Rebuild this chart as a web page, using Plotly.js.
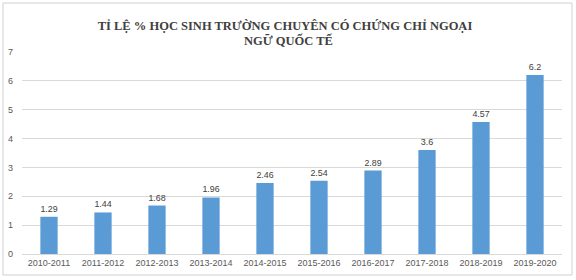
<!DOCTYPE html>
<html>
<head>
<meta charset="utf-8">
<script src="https://cdn.plot.ly/plotly-3.0.1.min.js"></script>
<style>
html,body{margin:0;padding:0;background:#fff;}
#chart{width:576px;height:280px;}
</style>
</head>
<body>
<div id="chart"></div>
<script>
const years = ["2010-2011","2011-2012","2012-2013","2013-2014","2014-2015","2015-2016","2016-2017","2017-2018","2018-2019","2019-2020"];
const percent = [1.29,1.44,1.68,1.96,2.46,2.54,2.89,3.6,4.57,6.2];
const percentLabels = ["1.29","1.44","1.68","1.96","2.46","2.54","2.89","3.6","4.57","6.2"];
const titleLine1 = "TỈ LỆ % HỌC SINH TRƯỜNG CHUYÊN CÓ CHỨNG CHỈ NGOẠI";
const titleLine2 = "NGỮ QUỐC TẾ";

const titleFont = {family: "Liberation Serif", size: 12.5, color: "#404040", weight: 700};

const trace = {
  type: "bar",
  x: years,
  y: percent,
  text: percentLabels,
  texttemplate: "%{text}",
  textposition: "outside",
  textfont: {family: "Liberation Sans", size: 9, color: "#404040"},
  cliponaxis: false,
  marker: {color: "#5b9bd5"},
  hoverinfo: "x+y"
};

const layout = {
  width: 576, height: 280,
  margin: {l: 22, r: 14, t: 52, b: 26},
  paper_bgcolor: "#ffffff",
  plot_bgcolor: "#ffffff",
  bargap: 0.68,
  showlegend: false,
  title: {
    text: titleLine1,
    xref: "paper", yref: "paper",
    x: 0.487, xanchor: "center",
    y: 1.134, yanchor: "middle",
    font: titleFont
  },
  annotations: [{
    text: titleLine2, showarrow: false,
    xref: "paper", yref: "paper",
    x: 0.4926, xanchor: "center",
    y: 1.059, yanchor: "middle",
    font: titleFont
  }],
  xaxis: {
    type: "category",
    showgrid: false,
    showline: true, linecolor: "#d9d9d9", linewidth: 1,
    ticks: "",
    tickfont: {family: "Liberation Sans", size: 9, color: "#595959"},
    fixedrange: true
  },
  yaxis: {
    range: [0, 7],
    dtick: 1,
    showgrid: true, gridcolor: "#d9d9d9", gridwidth: 1,
    zeroline: false,
    showline: false,
    ticks: "",
    ticklabelstandoff: 8,
    tickfont: {family: "Liberation Sans", size: 9, color: "#595959"},
    fixedrange: true
  },
  shapes: [{
    type: "rect", xref: "paper", yref: "paper",
    x0: -0.0352, x1: 1.0185, y0: -0.104, y1: 1.2426,
    line: {color: "#d0d0d0", width: 1}, fillcolor: "rgba(0,0,0,0)", layer: "below"
  }]
};

Plotly.newPlot("chart", [trace], layout, {staticPlot: true, displayModeBar: false});
</script>
</body>
</html>
